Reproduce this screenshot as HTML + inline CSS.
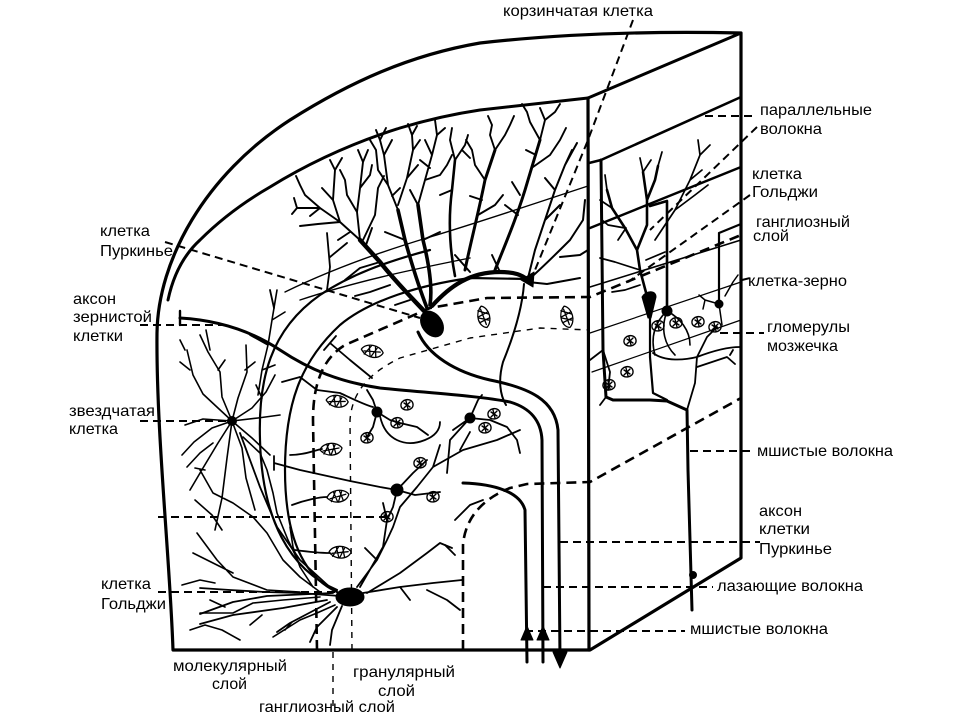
<!DOCTYPE html>
<html><head><meta charset="utf-8">
<style>
html,body{margin:0;padding:0;background:#fff;}
svg{display:block;}
text{font-family:"Liberation Sans","DejaVu Sans",sans-serif;font-size:16px;fill:#000;}
</style></head><body>
<svg width="960" height="720" viewBox="0 0 960 720" xmlns="http://www.w3.org/2000/svg">
<defs>
<g id="leaf" fill="none" stroke="#000" stroke-width="1.3">
<path d="M-11,0 C-8,-8 6,-9 11,-2 C9,6 -4,8 -11,0 Z"/>
<path d="M-8,1 L8,-2 M-4,-5 L-1,4 M2,-6 L5,4 M-7,4 L-2,-6 M4,-5 L0,5"/>
</g>
<g id="glo" fill="none" stroke="#000" stroke-width="1.4">
<path d="M-6,1 C-7,-6 5,-8 6,-1 C7,6 -5,7 -6,1 Z"/>
<path d="M-3,-2 L3,2 M-1,-4 L1,4 M-3,3 L3,-3"/>
</g>
</defs>
<rect width="960" height="720" fill="#fff"/>
<g fill="none" stroke="#000" stroke-linecap="round" stroke-linejoin="round">

<!-- ===== Boundary ===== -->
<path stroke-width="3.2" d="M173,650 C170,560 156,430 157,333 C158,260 205,175 290,120 C350,82 410,55 480,43 C560,34 650,31 741,33 L741,558 L590,650 Z"/>
<path stroke-width="3" d="M168,300 Q176,262 200,240 Q230,210 270,187 Q330,150 400,128 Q440,116 480,110 L588,98 L741,33"/>
<path stroke-width="3.2" d="M588,98 L589,650"/>

<!-- ===== Right face lines ===== -->
<path stroke-width="2.6" d="M589,163 L601,160 L741,97"/>
<path stroke-width="3" d="M601,160 L603,350 L606,397 L613,400 L650,400 L667,401 L687,410 L688,470 L690,540 L692,610"/>
<circle cx="693" cy="575" r="3.5" fill="#000"/>
<path stroke-width="2.5" d="M590,228 L741,167"/>
<path stroke-width="1.6" d="M590,287 L741,240"/>
<path stroke-width="1.2" d="M590,333 L741,282"/>
<path stroke-width="1.2" d="M592,372 L741,320"/>
<!-- right Purkinje -->
<path fill="#000" stroke-width="1" d="M642,297 C646,290 656,290 656,297 L651,318 L648,318 Z"/>
<path stroke-width="2.6" d="M648,300 L640,270 L637,250 L625,228 L612,208 L607,190 M637,250 L647,225 L647,200 L643,172 M647,200 L655,180 L658,166"/>
<path stroke-width="1.7" d="M640,270 L615,262 L600,258 M625,228 L608,225 L602,220 M612,208 L600,200 M607,190 L605,175 M643,172 L640,158 M643,172 L651,160 M655,240 L675,210 L690,180 L700,155 L710,145 M675,210 L695,195 L708,185 M690,180 L702,170 M700,155 L698,140 M640,285 L625,290 L612,292 M646,260 L665,252 M658,166 L662,152 M626,228 L618,240"/>
<path stroke-width="2.2" d="M650,318 L650,357 L653,393 L667,400"/>
<!-- right Golgi -->
<path stroke-width="2.6" d="M650,206 L667,201 L667,310"/>
<circle cx="667" cy="311" r="5" fill="#000"/>
<path stroke-width="1.6" d="M667,311 C655,322 650,337 655,355 M667,311 C680,318 690,330 690,345 M667,311 C660,330 665,345 675,355"/>
<path stroke-width="2.2" d="M719,233 L719,303 M719,233 L741,224"/>
<circle cx="719" cy="304" r="4" fill="#000"/>
<path stroke-width="1.5" d="M719,304 L705,300 L699,295 M705,300 L703,309 M719,304 L722,325 M733,282 L725,296 M733,282 L738,275"/>
<path stroke-width="1.8" d="M653,353 C665,362 685,360 697,357 C710,352 725,347 740,347 M687,410 L695,383 L697,357 L707,337 L717,327 M697,367 L727,357 L735,364 M730,355 L733,350"/>
<path stroke-width="1.8" d="M603,350 L590,360 M603,350 L610,372 L608,390 M606,397 L600,405"/>
<use href="#glo" x="630" y="341"/>
<use href="#glo" x="627" y="372"/>
<use href="#glo" x="609" y="385"/>
<use href="#glo" x="658" y="326"/>
<use href="#glo" x="676" y="323"/>
<use href="#glo" x="698" y="322"/>
<use href="#glo" x="715" y="327"/>

<!-- ===== Front Purkinje cell ===== -->
<ellipse cx="432" cy="324" rx="10" ry="14" transform="rotate(-35 432 324)" fill="#000"/>
<path stroke-width="4.4" d="M425,312 C410,296 394,280 380,262 L360,240"/>
<path stroke-width="3.6" d="M427,308 C420,290 412,265 405,240 L398,210"/>
<path stroke-width="3.6" d="M430,305 C433,285 428,260 423,240 L418,205"/>
<path stroke-width="4.2" d="M432,306 C450,286 470,272 500,272 C515,272 522,275 528,280"/>
<path stroke-width="3" d="M465,270 C470,245 478,215 485,180 L495,150"/>
<path stroke-width="3" d="M495,270 C505,245 518,215 528,180 L540,140"/>
<path stroke-width="2.6" d="M455,276 C450,250 448,220 452,190 L455,160"/>
<path stroke-width="1.9" d="
M360,240 L340,222 L320,208 L297,208 M340,222 L333,200 L335,170 M333,200 L322,188 M320,208 L305,195 L300,185 M320,208 L310,216 M340,222 L318,224 L300,226
M360,240 L357,212 L360,188 L363,162 M357,212 L347,195 L345,180 M360,188 L370,175 L372,165 M363,240 L375,215 L378,188 M378,188 L384,176
M335,170 L330,160 M335,170 L342,158 M363,162 L358,150 M363,162 L368,150 M297,208 L292,214 M297,208 L294,198 M300,185 L296,176 M345,180 L340,170
M398,210 L388,185 L384,155 L380,140 M388,185 L378,170 L376,150 M398,205 L407,178 L413,150 L412,135 M407,178 L418,165 M384,155 L392,140 M413,150 L420,140
M380,140 L376,130 M380,140 L386,128 M376,150 L370,140 M412,135 L408,124 M412,135 L417,126
M418,205 L425,180 L432,155 L437,135 M425,180 L440,175 L447,165 M432,155 L425,140 M418,205 L410,190 M437,135 L445,128 M437,135 L435,120 M447,165 L452,155
M455,160 L450,140 L452,128 M455,160 L465,145 L468,135 M452,190 L440,195
M495,150 L490,135 L492,125 M495,150 L505,135 L510,125 M485,180 L475,165 L472,150 M472,150 L466,140 M492,125 L488,116 M510,125 L514,116
M540,140 L545,120 L555,112 M540,140 L530,122 L527,112 M533,167 L550,155 L560,140 M545,120 L540,108 M560,140 L566,128 M555,112 L560,104 M527,112 L522,104
M478,215 L495,205 L503,195 M518,215 L505,205 M405,240 L385,232 M423,240 L440,232 M390,285 L370,292 L355,296 M380,262 L360,268 L345,280
M410,300 L395,305 M470,272 L455,255 M500,272 L492,255
M350,232 L338,240 M372,228 L366,245 M392,196 L400,188 M430,168 L420,160 M462,150 L470,158 M482,200 L470,196 M520,195 L512,182 M536,155 L526,150"/>
<!-- parallel fiber crossing tree -->
<path stroke-width="1.4" d="M285,292 C330,270 380,252 430,237 C480,222 530,205 588,186"/>
<path stroke-width="1.4" d="M300,300 C360,280 420,268 470,258"/>
<!-- basket cell -->
<path fill="#000" stroke-width="1" d="M521,280 L534,272 L533,287 Z"/>
<path stroke-width="2" d="M528,280 C540,270 555,255 570,240 L583,220 L585,200 M528,278 L535,250 L545,220 L555,190 L565,165 L577,143 M560,257 L580,255 L588,250 M545,220 L560,205 M528,282 L547,284 L580,278 M565,165 L572,150 M555,190 L545,178"/>
<path stroke-width="2" d="M524,284 C522,310 512,340 503,362 C498,380 500,395 506,405"/>
<!-- basket dendrites on left -->
<path stroke-width="1.8" d="M327,233 L330,267 L327,290 M330,257 L347,243 M270,290 L274,308"/>

<!-- big curves -->
<path stroke-width="2.2" d="M337,590 C290,570 262,520 260,440 C258,380 270,330 320,295 C350,275 385,262 430,250"/>
<path stroke-width="2.2" d="M337,592 C300,575 285,530 285,470 C285,405 300,362 340,325 C370,300 420,285 470,278 L528,279"/>

<!-- fibre bundle -->
<path stroke-width="3" d="M418,332 C428,355 455,372 490,380 C530,388 555,400 558,430 L560,660"/>
<path stroke-width="3" d="M180,318 C215,320 250,330 280,350 C310,370 340,382 380,388 C430,393 480,396 510,402 C530,408 541,420 542,440 L543,662"/>
<path stroke-width="2.4" d="M180,311 L180,325"/>
<path stroke-width="3" d="M463,483 C495,484 520,492 525,510 L527,662"/>
<path fill="#000" stroke-width="1" d="M553,652 L567,652 L560,668 Z"/>
<path fill="#000" stroke-width="1" d="M537,640 L549,640 L543,626 Z"/>
<path fill="#000" stroke-width="1" d="M521,640 L533,640 L527,626 Z"/>

<!-- ===== Dashed lines ===== -->
<g stroke-width="2.6" stroke-dasharray="10 6" stroke-linecap="butt">
<path d="M317,650 L313,420 C313,380 325,357 345,345 L430,308 L487,298 L590,297 L741,235"/>
<path d="M463,650 L463,545 C465,520 480,500 510,488 L527,484 L590,482 L741,398"/>
</g>
<g stroke-width="1.4" stroke-dasharray="6 6" stroke-linecap="butt">
<path d="M352,650 L350,420 C352,395 365,375 400,358 L470,338 L540,328 L590,330"/>
<path d="M333,652 L333,706"/>
</g>
<g stroke-width="2" stroke-dasharray="8 5" stroke-linecap="butt">
<path d="M633,20 L588,140 L533,275"/>
<path d="M165,242 L420,318"/>
<path d="M140,325 L230,325"/>
<path d="M140,421 L232,421"/>
<path d="M158,517 L390,517"/>
<path d="M158,592 L340,592"/>
<path d="M705,116 L757,116"/>
<path d="M757,127 L650,230"/>
<path d="M750,195 L628,282"/>
<path d="M720,333 L764,333"/>
<path d="M690,451 L755,451"/>
<path d="M560,542 L760,542"/>
<path d="M543,587 L713,587"/>
<path d="M525,631 L685,631"/>
<path d="M742,280 L750,278"/>
</g>

<!-- ===== Stellate cell & left dendrites ===== -->
<circle cx="232" cy="421" r="4.5" fill="#000"/>
<path stroke-width="1.6" d="
M232,421 L218,408 L203,394 L193,375 L187,350 M232,421 L222,397 L220,372 L208,352 L200,335 M232,421 L238,398 L247,372 L246,345
M232,421 L252,408 L266,392 L275,375 M232,421 L258,418 L280,415 M232,421 L212,428 L194,442 L182,455 M232,421 L218,443 L203,468 L190,490
M232,421 L242,448 L246,478 L255,510 M232,421 L252,438 L270,455 M232,421 L203,419 L185,425 M232,421 L227,458 L222,498 L215,530
M190,370 L180,362 M218,370 L225,360 M245,370 L255,362 M205,470 L195,468
M277,290 L272,320 L268,345 L262,370 L258,395 M272,320 L285,312 M268,345 L250,335 M262,370 L275,365
M200,470 L213,493 L233,503 L253,517 L267,533 L283,560 L300,577 L320,592
M243,437 L260,453 L267,470 L273,493 L277,513 L288,540 L300,565
M197,533 L217,560 L233,577 L267,590 L300,592 M193,553 L213,563 L233,573
M200,613 L233,613 L253,603 L283,600 L320,597 M210,600 L225,607
M273,637 L300,620 L317,613 L335,605 M285,630 L292,622
M290,527 L293,547 L300,567 L313,587
M187,467 L200,453 L213,443 M195,500 L212,515 L222,530 M182,585 L200,580 L215,583
M190,630 L205,625 L222,630 L240,640 M250,625 L262,615
M210,350 L206,330 M185,350 L180,340 M256,385 L262,398"/>

<!-- ===== Golgi cell front ===== -->
<ellipse cx="350" cy="597" rx="14" ry="9" fill="#000"/>
<path stroke-width="1.8" d="
M340,596 L300,593 L265,592 L230,590 L200,588
M333,593 L267,596 L233,602 L200,614 M327,600 L283,608 L233,615 L200,624
M330,602 L290,623 L277,632 M337,607 L317,627 L310,642 M342,606 L332,630 L330,645
M363,593 L400,587 L433,583 L462,580 M367,593 L400,573 L427,553 L440,543 M427,590 L447,600 L460,610 M400,587 L410,600
M357,587 L377,560 L387,540 L393,527 L400,507 L417,487 L433,467 L463,450 L497,440 L520,430
M360,587 L383,547 L387,520 L383,503 M333,590 L300,560 L277,527 L260,487 L250,460 L240,433
M433,467 L440,445 M460,450 L470,432 M377,560 L365,548 M440,543 L452,548"/>

<!-- ===== Granule cells front ===== -->
<circle cx="377" cy="412" r="5" fill="#000"/>
<circle cx="470" cy="418" r="5" fill="#000"/>
<circle cx="397" cy="490" r="6" fill="#000"/>
<path stroke-width="1.8" d="
M377,412 L373,400 L367,390 M377,412 L390,420 L400,423 L417,427 L428,435 M377,412 L373,427 L367,437 M380,416 C385,440 405,448 425,440 C435,436 440,430 440,422
M470,418 L453,430 M470,418 L490,420 L507,427 L517,440 L520,453 M470,418 L450,440 L447,473 M470,418 L478,400 L482,395
M397,490 L380,487 L350,481 L300,470 L274,463 M274,456 L274,470 M397,490 L413,473 L427,460 M397,490 L393,507 L387,520 M397,490 L415,495 L440,492
M330,343 L350,360 M324,350 L336,336 M350,360 L372,378
M340,393 C355,400 365,405 373,407 M300,377 L317,390 L340,393
M282,382 L300,377 M290,455 C305,455 315,450 322,449 M292,505 C305,500 320,497 327,497 M295,550 C310,552 325,553 330,553
M455,520 L470,505 L483,500 M455,555 L445,545"/>
<use href="#leaf" x="372" y="352" transform="rotate(15 372 352)"/>
<use href="#leaf" x="337" y="402" transform="rotate(10 337 402)"/>
<use href="#leaf" x="331" y="450"/>
<use href="#leaf" x="338" y="497" transform="rotate(-5 338 497)"/>
<use href="#leaf" x="340" y="553" transform="rotate(5 340 553)"/>
<use href="#leaf" x="483" y="317" transform="rotate(80 483 317)"/>
<use href="#leaf" x="566" y="317" transform="rotate(80 566 317)"/>
<use href="#glo" x="407" y="405"/>
<use href="#glo" x="367" y="438"/>
<use href="#glo" x="397" y="423"/>
<use href="#glo" x="420" y="463"/>
<use href="#glo" x="387" y="517"/>
<use href="#glo" x="485" y="428"/>
<use href="#glo" x="494" y="414"/>
<use href="#glo" x="433" y="497"/>
</g>

<!-- ===== Labels ===== -->
<text x="503" y="16" textLength="150" lengthAdjust="spacingAndGlyphs">корзинчатая клетка</text>
<text x="760" y="115" textLength="112" lengthAdjust="spacingAndGlyphs">параллельные</text>
<text x="760" y="134" textLength="62" lengthAdjust="spacingAndGlyphs">волокна</text>
<text x="752" y="179" textLength="50" lengthAdjust="spacingAndGlyphs">клетка</text>
<text x="752" y="197" textLength="66" lengthAdjust="spacingAndGlyphs">Гольджи</text>
<text x="756" y="227" textLength="94" lengthAdjust="spacingAndGlyphs">ганглиозный</text>
<text x="753" y="241" textLength="36" lengthAdjust="spacingAndGlyphs">слой</text>
<text x="748" y="286" textLength="99" lengthAdjust="spacingAndGlyphs">клетка-зерно</text>
<text x="767" y="332" textLength="83" lengthAdjust="spacingAndGlyphs">гломерулы</text>
<text x="767" y="351" textLength="71" lengthAdjust="spacingAndGlyphs">мозжечка</text>
<text x="757" y="456" textLength="136" lengthAdjust="spacingAndGlyphs">мшистые волокна</text>
<text x="759" y="516" textLength="43" lengthAdjust="spacingAndGlyphs">аксон</text>
<text x="759" y="534" textLength="51" lengthAdjust="spacingAndGlyphs">клетки</text>
<text x="759" y="554" textLength="73" lengthAdjust="spacingAndGlyphs">Пуркинье</text>
<text x="717" y="591" textLength="146" lengthAdjust="spacingAndGlyphs">лазающие волокна</text>
<text x="690" y="634" textLength="138" lengthAdjust="spacingAndGlyphs">мшистые волокна</text>

<text x="100" y="236" textLength="50" lengthAdjust="spacingAndGlyphs">клетка</text>
<text x="100" y="256" textLength="73" lengthAdjust="spacingAndGlyphs">Пуркинье</text>
<text x="73" y="304" textLength="43" lengthAdjust="spacingAndGlyphs">аксон</text>
<text x="73" y="322" textLength="79" lengthAdjust="spacingAndGlyphs">зернистой</text>
<text x="73" y="341" textLength="50" lengthAdjust="spacingAndGlyphs">клетки</text>
<text x="69" y="416" textLength="86" lengthAdjust="spacingAndGlyphs">звездчатая</text>
<text x="69" y="434" textLength="49" lengthAdjust="spacingAndGlyphs">клетка</text>
<text x="101" y="589" textLength="50" lengthAdjust="spacingAndGlyphs">клетка</text>
<text x="101" y="609" textLength="65" lengthAdjust="spacingAndGlyphs">Гольджи</text>

<text x="173" y="671" textLength="114" lengthAdjust="spacingAndGlyphs">молекулярный</text>
<text x="212" y="689" textLength="35" lengthAdjust="spacingAndGlyphs">слой</text>
<text x="353" y="677" textLength="102" lengthAdjust="spacingAndGlyphs">гранулярный</text>
<text x="378" y="696" textLength="37" lengthAdjust="spacingAndGlyphs">слой</text>
<text x="259" y="712" textLength="136" lengthAdjust="spacingAndGlyphs">ганглиозный слой</text>
</svg>
</body></html>
